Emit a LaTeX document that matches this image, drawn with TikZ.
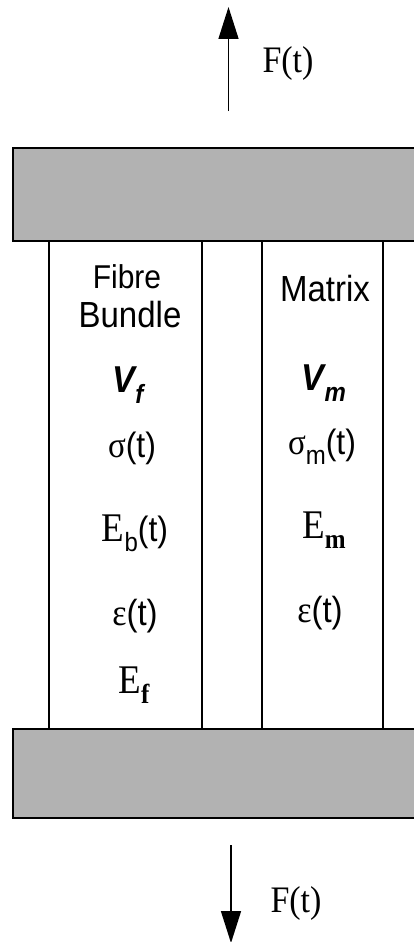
\documentclass[tikz,border=0pt]{standalone}
\usepackage{fontspec}
\usepackage{graphicx}
\setmainfont{Liberation Serif}
\setsansfont{Liberation Sans}
\usetikzlibrary{arrows.meta}
\definecolor{plategray}{RGB}{178,178,178}
\newcommand\myfs[1]{\fontsize{#1}{#1}\selectfont}
\newcommand\mysub[2]{\raisebox{-0.3em}{\myfs{#1}#2}}
\newcommand\tall[1]{\scalebox{1}[1.1]{#1}}
\begin{document}
\begin{tikzpicture}[x=1pt,y=-1pt,
  plate/.style={draw=black,line width=2pt,fill=plategray,anchor=north west,inner sep=0pt,outer sep=0pt},
  colbox/.style={draw=black,line width=1.4pt,fill=white,anchor=north west,inner sep=0pt,outer sep=0pt},
  lbl/.style={inner sep=0pt,anchor=base},
  force/.style={line width=1.5pt,-{Triangle[length=32pt,width=20pt]}},
]
\clip (0,0) rectangle (414,942);
\fill[white] (0,0) rectangle (414,942);
% columns
\node[colbox,minimum width=153pt,minimum height=488pt] (fibre) at (49,240.5) {};
\node[colbox,minimum width=121pt,minimum height=488pt] (matrix) at (262,240.5) {};
% plates
\node[plate,minimum width=420pt,minimum height=92.5pt] (topplate) at (12.5,148) {};
\node[plate,minimum width=420pt,minimum height=89pt] (botplate) at (13.3,729) {};
% forces
\coordinate (ts) at (228.5,111);
\coordinate (te) at (228.5,7);
\draw[force] (ts) -- (te);
\coordinate (bs) at (231,845);
\coordinate (be) at (231,943);
\draw[force] (bs) -- (be);
\node[lbl] (ftop) at (288,72) {\tall{\rmfamily\myfs{34}F(t)}};
\node[lbl] (fbot) at (296,912) {\tall{\rmfamily\myfs{34}F(t)}};
% fibre bundle texts
\node[lbl] (fib1) at (127,288) {\tall{\sffamily\myfs{30}Fibre}};
\node[lbl] (fib2) at (130,327) {\tall{\sffamily\myfs{33}Bundle}};
\node[lbl] (vf) at (128,392) {\tall{\sffamily\bfseries\itshape\myfs{34}V\mysub{24}{f}}};
\node[lbl] (sig) at (132,457) {\tall{{\rmfamily\myfs{33}σ}{\sffamily\myfs{32}(t)}}};
\node[lbl] (eb) at (135,541) {\tall{{\rmfamily\myfs{37}E}{\sffamily\myfs{32}\mysub{24}{b}(t)}}};
\node[lbl] (eps) at (135,625) {\tall{{\rmfamily\myfs{34}ε}{\sffamily\myfs{33}(t)}}};
\node[lbl] (ef) at (134,693) {\tall{{\rmfamily\myfs{37}E}{\rmfamily\bfseries\myfs{32}\mysub{25}{f}}}};
% matrix texts
\node[lbl] (mat) at (325,301) {\tall{\sffamily\myfs{33}Matrix}};
\node[lbl] (vm) at (324,390) {\tall{\sffamily\bfseries\itshape\myfs{34}V\mysub{24}{m}}};
\node[lbl] (sigm) at (322,454) {\tall{{\rmfamily\myfs{33}σ}{\sffamily\myfs{32}\mysub{24}{m}(t)}}};
\node[lbl] (em) at (324,538) {\tall{{\rmfamily\myfs{37}E}{\rmfamily\bfseries\myfs{32}\mysub{25}{m}}}};
\node[lbl] (epsm) at (320,622) {\tall{{\rmfamily\myfs{34}ε}{\sffamily\myfs{33}(t)}}};
\end{tikzpicture}
\end{document}
